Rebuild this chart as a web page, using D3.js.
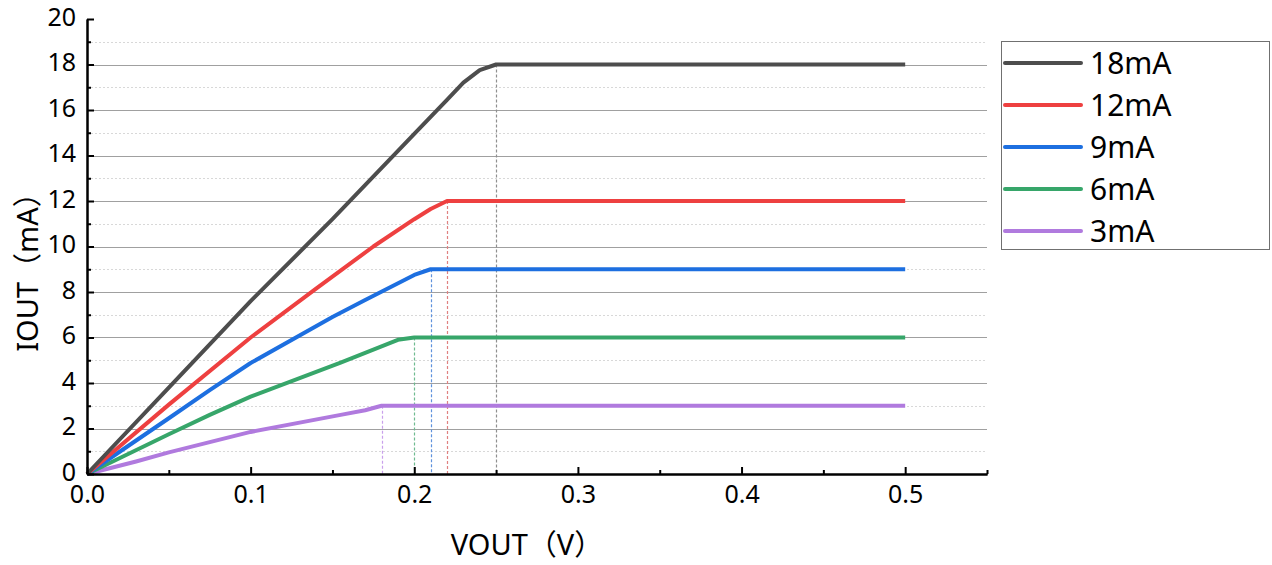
<!DOCTYPE html>
<html>
<head>
<meta charset="utf-8">
<script src="https://cdn.jsdelivr.net/npm/d3@7"></script>
<style>
  html, body { margin: 0; padding: 0; background: #fff; }
  svg { display: block; font-family: "Noto Sans", "Noto Sans CJK SC", sans-serif; }
</style>
</head>
<body>
<svg id="chart" width="1272" height="565"></svg>
<script>
// ---- data ----
const seriesNames = ["18mA", "12mA", "9mA", "6mA", "3mA"];
const v18 = [0, 0.05, 0.10, 0.15, 0.20, 0.21, 0.22, 0.23, 0.24, 0.25, 0.50];
const i18 = [0, 3.8, 7.6, 11.2, 14.95, 15.7, 16.45, 17.2, 17.75, 18, 18];
const v12 = [0, 0.05, 0.10, 0.14, 0.175, 0.20, 0.21, 0.22, 0.50];
const i12 = [0, 3.05, 6.0, 8.15, 10.0, 11.2, 11.65, 12, 12];
const v9 = [0, 0.05, 0.075, 0.10, 0.15, 0.17, 0.20, 0.21, 0.50];
const i9 = [0, 2.45, 3.69, 4.88, 6.9, 7.65, 8.75, 9, 9];
const v6 = [0, 0.05, 0.075, 0.10, 0.155, 0.19, 0.20, 0.50];
const i6 = [0, 1.75, 2.6, 3.4, 4.9, 5.9, 6, 6];
const v3 = [0, 0.03, 0.05, 0.075, 0.10, 0.155, 0.17, 0.18, 0.50];
const i3 = [0, 0.55, 0.95, 1.4, 1.85, 2.6, 2.8, 3, 3];
const kneeV = [0.25, 0.22, 0.21, 0.20, 0.18];
const kneeI = [18, 12, 9, 6, 3];
const xMajorTicks = [0, 0.1, 0.2, 0.3, 0.4, 0.5];
const xMinorTicks = [0.05, 0.15, 0.25, 0.35, 0.45, 0.55];
const yMajorTicks = [0, 2, 4, 6, 8, 10, 12, 14, 16, 18, 20];
const yMinorTicks = [1, 3, 5, 7, 9, 11, 13, 15, 17, 19];
const xTitle = "VOUT（V）";
const yTitle = "IOUT（mA）";

// ---- styles ----
const lineColors = ["#4d4d4d", "#ee4040", "#1d6fe0", "#37a66a", "#b07ade"];
const dropColors = ["#8f8f8f", "#e08080", "#5f92dc", "#6fbb90", "#c9a0ec"];

const svg = d3.select("#chart");
const x = d3.scaleLinear().domain([0, 0.55]).range([87, 987]);
const y = d3.scaleLinear().domain([0, 20]).range([474, 19]);

const series = [
  {v: v18, i: i18}, {v: v12, i: i12}, {v: v9, i: i9}, {v: v6, i: i6}, {v: v3, i: i3}
];

// grid
const grid = svg.append("g");
grid.selectAll("line.minor").data(yMinorTicks).join("line")
  .attr("x1", x(0)).attr("x2", x(0.55))
  .attr("y1", d => Math.round(y(d)) + 0.5).attr("y2", d => Math.round(y(d)) + 0.5)
  .attr("stroke", "#d8d8d8").attr("stroke-width", 1).attr("stroke-dasharray", "2,2");
grid.selectAll("line.major").data(yMajorTicks.filter(d => d > 0 && d < 20)).join("line")
  .attr("x1", x(0)).attr("x2", x(0.55))
  .attr("y1", d => Math.round(y(d)) + 0.5).attr("y2", d => Math.round(y(d)) + 0.5)
  .attr("stroke", "#a0a0a0").attr("stroke-width", 1.2);

// drop lines
svg.append("g").selectAll("line").data(kneeV).join("line")
  .attr("x1", d => Math.round(x(d)) + 0.5).attr("x2", d => Math.round(x(d)) + 0.5)
  .attr("y1", (d, k) => y(kneeI[k])).attr("y2", y(0))
  .attr("stroke", (d, k) => dropColors[k]).attr("stroke-width", 1.2)
  .attr("stroke-dasharray", "3,2");

// series lines
const lineGen = d3.line().x(d => x(d[0])).y(d => y(d[1]));
svg.append("g").selectAll("path").data(series.slice().reverse()).join("path")
  .attr("d", s => lineGen(s.v.map((vv, k) => [vv, s.i[k]])))
  .attr("fill", "none")
  .attr("stroke", (s, k) => lineColors[series.length - 1 - k])
  .attr("stroke-width", 4)
  .attr("stroke-linejoin", "round");

// axes
const yAxis = d3.axisLeft(y).tickValues(yMajorTicks).tickSizeInner(-7).tickSizeOuter(0).tickPadding(11).tickFormat(d3.format("d"));
const yMinor = d3.axisLeft(y).tickValues(yMinorTicks).tickSizeInner(-4).tickSizeOuter(0).tickFormat("");
const xAxis = d3.axisBottom(x).tickValues(xMajorTicks).tickSizeInner(-7).tickSizeOuter(0).tickPadding(11).tickFormat(d3.format(".1f"));
const xMinor = d3.axisBottom(x).tickValues(xMinorTicks).tickSizeInner(-4).tickSizeOuter(0).tickFormat("");

function styleAxis(g) {
  g.select(".domain").attr("stroke", "#000").attr("stroke-width", 2);
  g.selectAll(".tick line").attr("stroke", "#000").attr("stroke-width", 2);
  g.selectAll(".tick text").attr("fill", "#000").attr("font-size", 25)
    .attr("font-family", "'Noto Sans', sans-serif");
}
svg.append("g").attr("transform", `translate(${x(0)},0)`).call(yMinor).call(styleAxis);
svg.append("g").attr("transform", `translate(0,${y(0)})`).call(xMinor).call(styleAxis);
const gy = svg.append("g").attr("transform", `translate(${x(0)},0)`).call(yAxis).call(styleAxis);
gy.selectAll(".tick text").attr("dy", "0.25em");
svg.append("g").attr("transform", `translate(0,${y(0)})`).call(xAxis).call(styleAxis);

// axis titles
svg.append("text").attr("x", 527).attr("y", 555).attr("text-anchor", "middle")
  .attr("font-size", 29).attr("fill", "#000").text(xTitle);
svg.append("text").attr("transform", "translate(38,265) rotate(-90)").attr("text-anchor", "middle")
  .attr("font-size", 29).attr("fill", "#000").text(yTitle);

// legend
const lg = svg.append("g");
lg.append("rect").attr("x", 1001.5).attr("y", 41.5).attr("width", 268).attr("height", 208)
  .attr("fill", "#fff").attr("stroke", "#707070").attr("stroke-width", 1);
const items = lg.selectAll("g.item").data(seriesNames).join("g")
  .attr("transform", (d, k) => `translate(0,${63 + k * 42})`);
items.append("line").attr("x1", 1005).attr("x2", 1081).attr("y1", 0).attr("y2", 0)
  .attr("stroke", (d, k) => lineColors[k]).attr("stroke-width", 4).attr("stroke-linecap", "round");
items.append("text").attr("x", 1090).attr("y", 11).attr("font-size", 30).attr("fill", "#000").text(d => d);
</script>
</body>
</html>
